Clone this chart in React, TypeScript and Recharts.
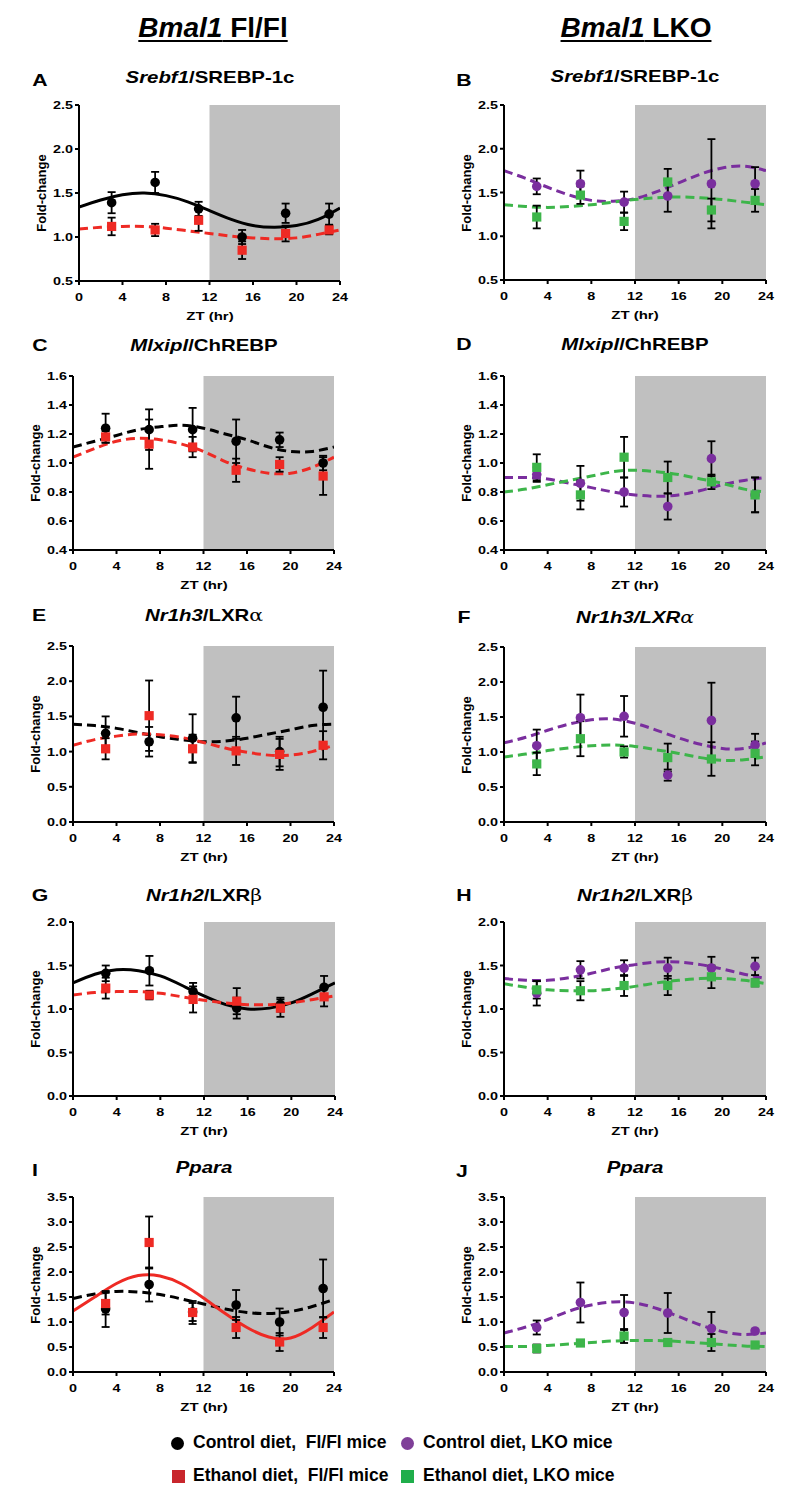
import React from 'react';
import { ComposedChart, XAxis, YAxis, Line, Scatter, ErrorBar, ReferenceArea } from 'recharts';

const FONT = '"Liberation Sans", Arial, Helvetica, sans-serif';
const C_BLACK = '#000000';
const C_RED = '#EE2A24';
const C_PURPLE = '#7A2E9E';
const C_GREEN = '#3DB54A';
const C_SHADE = '#C0C0C0';

// sampling times (ZT, hr)
const zt = [3, 7, 11, 15, 19, 23];
const fitZt = [0, 2, 4, 6, 8, 10, 12, 14, 16, 18, 20, 22, 24];
const xTicks = [0, 4, 8, 12, 16, 20, 24];
const darkStart = 12;
const darkEnd = 24;

// y ticks
const ticksA = [0.5, 1.0, 1.5, 2.0, 2.5];
const ticksC = [0.4, 0.6, 0.8, 1.0, 1.2, 1.4, 1.6];
const ticksE = [0, 0.5, 1.0, 1.5, 2.0, 2.5];
const ticksG = [0, 0.5, 1.0, 1.5, 2.0];
const ticksI = [0, 0.5, 1.0, 1.5, 2.0, 2.5, 3.0, 3.5];

// A: Srebf1, Fl/Fl
const aCtrl = [1.39, 1.62, 1.32, 1.0, 1.27, 1.26];
const aCtrlErr = [0.12, 0.12, 0.08, 0.08, 0.11, 0.12];
const aEtoh = [1.12, 1.08, 1.19, 0.85, 1.04, 1.08];
const aEtohErr = [0.1, 0.07, 0.12, 0.1, 0.09, 0.05];
const aCtrlFit = [1.34, 1.42, 1.48, 1.5, 1.47, 1.4, 1.3, 1.2, 1.13, 1.11, 1.13, 1.2, 1.33];
const aEtohFit = [1.09, 1.11, 1.12, 1.12, 1.1, 1.07, 1.04, 1.01, 0.99, 0.98, 0.99, 1.03, 1.08];

// B: Srebf1, LKO
const bCtrl = [1.57, 1.6, 1.39, 1.46, 1.6, 1.6];
const bCtrlErr = [0.09, 0.15, 0.12, 0.18, 0.51, 0.19];
const bEtoh = [1.22, 1.47, 1.17, 1.62, 1.3, 1.41];
const bEtohErr = [0.13, 0.1, 0.1, 0.15, 0.13, 0.13];
const bCtrlFit = [1.75, 1.66, 1.56, 1.47, 1.41, 1.4, 1.43, 1.51, 1.61, 1.71, 1.78, 1.8, 1.75];
const bEtohFit = [1.36, 1.34, 1.33, 1.34, 1.36, 1.39, 1.42, 1.44, 1.45, 1.44, 1.42, 1.39, 1.36];

// C: Mlxipl, Fl/Fl
const cCtrl = [1.24, 1.23, 1.23, 1.15, 1.16, 1.0];
const cCtrlErr = [0.1, 0.14, 0.15, 0.15, 0.05, 0.05];
const cEtoh = [1.18, 1.13, 1.11, 0.95, 0.99, 0.91];
const cEtohErr = [0.04, 0.17, 0.07, 0.08, 0.05, 0.13];
const cCtrlFit = [1.11, 1.15, 1.19, 1.23, 1.25, 1.26, 1.24, 1.2, 1.16, 1.11, 1.08, 1.08, 1.11];
const cEtohFit = [1.04, 1.1, 1.15, 1.17, 1.16, 1.13, 1.08, 1.01, 0.96, 0.93, 0.93, 0.97, 1.04];

// D: Mlxipl, LKO
const dCtrl = [0.92, 0.86, 0.8, 0.7, 1.03, 0.78];
const dCtrlErr = [0.05, 0.12, 0.1, 0.09, 0.12, 0.12];
const dEtoh = [0.97, 0.78, 1.04, 0.9, 0.87, 0.78];
const dEtohErr = [0.09, 0.1, 0.14, 0.11, 0.05, 0.12];
const dCtrlFit = [0.9, 0.9, 0.89, 0.86, 0.83, 0.8, 0.78, 0.77, 0.78, 0.81, 0.85, 0.88, 0.9];
const dEtohFit = [0.8, 0.82, 0.85, 0.88, 0.91, 0.94, 0.95, 0.94, 0.92, 0.89, 0.86, 0.82, 0.8];

// E: Nr1h3, Fl/Fl
const eCtrl = [1.26, 1.14, 1.19, 1.48, 1.0, 1.63];
const eCtrlErr = [0.24, 0.21, 0.34, 0.3, 0.21, 0.52];
const eEtoh = [1.04, 1.51, 1.04, 1.01, 0.96, 1.09];
const eEtohErr = [0.15, 0.5, 0.2, 0.2, 0.22, 0.2];
const eCtrlFit = [1.39, 1.37, 1.33, 1.27, 1.21, 1.17, 1.14, 1.15, 1.19, 1.25, 1.31, 1.37, 1.39];
const eEtohFit = [1.09, 1.17, 1.22, 1.25, 1.24, 1.2, 1.13, 1.05, 0.99, 0.95, 0.95, 1.0, 1.09];

// F: Nr1h3, LKO
const fCtrl = [1.09, 1.49, 1.51, 0.67, 1.45, 1.1];
const fCtrlErr = [0.23, 0.33, 0.29, 0.08, 0.54, 0.16];
const fEtoh = [0.83, 1.19, 1.0, 0.92, 0.9, 0.98];
const fEtohErr = [0.16, 0.25, 0.08, 0.2, 0.24, 0.17];
const fCtrlFit = [1.13, 1.21, 1.31, 1.4, 1.46, 1.47, 1.41, 1.31, 1.2, 1.11, 1.05, 1.05, 1.13];
const fEtohFit = [0.93, 0.97, 1.02, 1.06, 1.09, 1.1, 1.08, 1.03, 0.98, 0.92, 0.88, 0.89, 0.93];

// G: Nr1h2, Fl/Fl
const gCtrl = [1.41, 1.44, 1.2, 1.01, 1.05, 1.25];
const gCtrlErr = [0.09, 0.17, 0.1, 0.12, 0.08, 0.13];
const gEtoh = [1.24, 1.16, 1.11, 1.09, 1.01, 1.14];
const gEtohErr = [0.12, 0.05, 0.15, 0.15, 0.1, 0.11];
const gCtrlFit = [1.3, 1.4, 1.45, 1.44, 1.38, 1.27, 1.15, 1.05, 1.0, 1.01, 1.07, 1.18, 1.3];
const gEtohFit = [1.16, 1.19, 1.2, 1.2, 1.18, 1.14, 1.1, 1.07, 1.05, 1.05, 1.07, 1.11, 1.15];

// H: Nr1h2, LKO
const hCtrl = [1.18, 1.45, 1.47, 1.47, 1.47, 1.49];
const hCtrlErr = [0.14, 0.1, 0.09, 0.12, 0.13, 0.1];
const hEtoh = [1.22, 1.21, 1.27, 1.27, 1.37, 1.3];
const hEtohErr = [0.1, 0.11, 0.12, 0.11, 0.13, 0.04];
const hCtrlFit = [1.35, 1.33, 1.33, 1.36, 1.41, 1.47, 1.51, 1.54, 1.54, 1.51, 1.46, 1.4, 1.35];
const hEtohFit = [1.29, 1.25, 1.22, 1.21, 1.21, 1.23, 1.26, 1.3, 1.33, 1.35, 1.35, 1.33, 1.29];

// I: Ppara, Fl/Fl
const iCtrl = [1.26, 1.75, 1.2, 1.34, 1.0, 1.67];
const iCtrlErr = [0.36, 0.34, 0.18, 0.3, 0.27, 0.58];
const iEtoh = [1.37, 2.59, 1.19, 0.89, 0.6, 0.89];
const iEtohErr = [0.22, 0.52, 0.23, 0.21, 0.18, 0.21];
const iCtrlFit = [1.47, 1.56, 1.61, 1.6, 1.55, 1.46, 1.36, 1.26, 1.19, 1.17, 1.21, 1.31, 1.45];
const iEtohFit = [1.22, 1.5, 1.77, 1.93, 1.92, 1.76, 1.48, 1.17, 0.89, 0.7, 0.68, 0.89, 1.2];

// J: Ppara, LKO
const jCtrl = [0.89, 1.39, 1.19, 1.18, 0.87, 0.82];
const jCtrlErr = [0.14, 0.4, 0.35, 0.4, 0.33, 0.03];
const jEtoh = [0.47, 0.58, 0.72, 0.59, 0.59, 0.54];
const jEtohErr = [0.08, 0.04, 0.14, 0.04, 0.17, 0.04];
const jCtrlFit = [0.78, 0.9, 1.05, 1.22, 1.34, 1.4, 1.38, 1.27, 1.11, 0.94, 0.81, 0.75, 0.78];
const jEtohFit = [0.51, 0.51, 0.53, 0.56, 0.59, 0.62, 0.63, 0.63, 0.61, 0.58, 0.55, 0.52, 0.51];

type Box = { l: number; r: number; t: number; b: number };
type SeriesDef = {
  key: string;
  color: string;
  marker: 'circle' | 'square';
  vals: number[];
  errs: number[];
  fit: number[];
  dashed: boolean;
};

const pts = (vals: number[], errs: number[]) => zt.map((x, i) => ({ x, y: vals[i], e: errs[i] }));
const fitPts = (vals: number[]) => fitZt.map((x, i) => ({ x, y: vals[i] }));

const XTick = (p: any) => (
  <text
    transform={`translate(${p.x},${p.y + 14}) scale(1.25,1)`}
    textAnchor="middle"
    fontFamily={FONT}
    fontWeight={700}
    fontSize={11.5}
    fill="#000"
  >
    {p.payload.value}
  </text>
);

const YTick = (p: any) => (
  <text
    transform={`translate(${p.x},${p.y + 4}) scale(1.25,1)`}
    textAnchor="end"
    fontFamily={FONT}
    fontWeight={700}
    fontSize={11.5}
    fill="#000"
  >
    {Number(p.payload.value).toFixed(1)}
  </text>
);

const circleShape = (color: string) => (p: any) =>
  p.cx == null ? <g /> : <circle cx={p.cx} cy={p.cy} r={4.8} fill={color} />;
const squareShape = (color: string) => (p: any) =>
  p.cx == null ? <g /> : <rect x={p.cx - 4.6} y={p.cy - 4.6} width={9.2} height={9.2} fill={color} />;

function ChartPanel({ box, domain, ticks, series }: { box: Box; domain: [number, number]; ticks: number[]; series: SeriesDef[] }) {
  const W = box.r - box.l + 50;
  const H = box.b - box.t + 30;
  return (
    <div style={{ position: 'absolute', left: box.l - 40, top: box.t - 8, width: W, height: H }}>
      <ComposedChart width={W} height={H} margin={{ top: 8, right: 10, bottom: 0, left: 0 }}>
        <XAxis
          type="number"
          dataKey="x"
          domain={[0, 24]}
          ticks={xTicks}
          interval={0}
          allowDataOverflow
          tick={<XTick />}
          tickSize={4}
          tickLine={{ stroke: '#000', strokeWidth: 2 }}
          axisLine={{ stroke: '#000', strokeWidth: 2 }}
          height={22}
        />
        <YAxis
          type="number"
          domain={domain}
          ticks={ticks}
          interval={0}
          allowDataOverflow
          tick={<YTick />}
          tickSize={4}
          tickLine={{ stroke: '#000', strokeWidth: 2 }}
          axisLine={{ stroke: '#000', strokeWidth: 2 }}
          width={40}
        />
        <ReferenceArea x1={darkStart} x2={darkEnd} fill={C_SHADE} fillOpacity={1} stroke="none" />
        {series.map((s) => (
          <Line
            key={'l' + s.key}
            data={fitPts(s.fit)}
            dataKey="y"
            type="natural"
            stroke={s.color}
            strokeWidth={3}
            strokeDasharray={s.dashed ? '9 5' : undefined}
            dot={false}
            activeDot={false}
            isAnimationActive={false}
          />
        ))}
        {series.map((s) => (
          <Scatter
            key={'s' + s.key}
            data={pts(s.vals, s.errs)}
            dataKey="y"
            shape={s.marker === 'circle' ? circleShape(s.color) : squareShape(s.color)}
            isAnimationActive={false}
          >
            <ErrorBar dataKey="e" direction="y" width={4} stroke="#000" strokeWidth={1.8} />
          </Scatter>
        ))}
      </ComposedChart>
    </div>
  );
}

const Txt = ({ x, y, size, sx = 1, children, style }: any) => (
  <div
    style={{
      position: 'absolute',
      left: x,
      top: y,
      transform: `translate(-50%,-50%) scaleX(${sx})`,
      fontFamily: FONT,
      fontWeight: 700,
      fontSize: size,
      lineHeight: 1,
      whiteSpace: 'pre',
      color: '#000',
      ...style,
    }}
  >
    {children}
  </div>
);

const greek = { fontFamily: '"DejaVu Serif", "Liberation Serif", serif', fontWeight: 400 };

type PanelDef = {
  letter: string;
  letterX: number;
  letterY: number;
  title: React.ReactNode;
  titleY: number;
  box: Box;
  domain: [number, number];
  ticks: number[];
  series: SeriesDef[];
};

const fl = (ctrl: number[], ctrlErr: number[], ctrlFit: number[], etoh: number[], etohErr: number[], etohFit: number[], ctrlDashed: boolean, etohDashed: boolean): SeriesDef[] => [
  { key: 'ctrl', color: C_BLACK, marker: 'circle', vals: ctrl, errs: ctrlErr, fit: ctrlFit, dashed: ctrlDashed },
  { key: 'etoh', color: C_RED, marker: 'square', vals: etoh, errs: etohErr, fit: etohFit, dashed: etohDashed },
];
const lko = (ctrl: number[], ctrlErr: number[], ctrlFit: number[], etoh: number[], etohErr: number[], etohFit: number[]): SeriesDef[] => [
  { key: 'ctrl', color: C_PURPLE, marker: 'circle', vals: ctrl, errs: ctrlErr, fit: ctrlFit, dashed: true },
  { key: 'etoh', color: C_GREEN, marker: 'square', vals: etoh, errs: etohErr, fit: etohFit, dashed: true },
];

const panels: PanelDef[] = [
  {
    letter: 'A', letterX: 40, letterY: 80, titleY: 77,
    title: <><i>Srebf1</i>/SREBP-1c</>,
    box: { l: 79, r: 340, t: 105, b: 281 }, domain: [0.5, 2.5], ticks: ticksA,
    series: fl(aCtrl, aCtrlErr, aCtrlFit, aEtoh, aEtohErr, aEtohFit, false, true),
  },
  {
    letter: 'B', letterX: 464, letterY: 80, titleY: 76,
    title: <><i>Srebf1</i>/SREBP-1c</>,
    box: { l: 504, r: 766, t: 105, b: 280 }, domain: [0.5, 2.5], ticks: ticksA,
    series: lko(bCtrl, bCtrlErr, bCtrlFit, bEtoh, bEtohErr, bEtohFit),
  },
  {
    letter: 'C', letterX: 40, letterY: 345, titleY: 345,
    title: <><i>Mlxipl</i>/ChREBP</>,
    box: { l: 73, r: 334, t: 376, b: 550 }, domain: [0.4, 1.6], ticks: ticksC,
    series: fl(cCtrl, cCtrlErr, cCtrlFit, cEtoh, cEtohErr, cEtohFit, true, true),
  },
  {
    letter: 'D', letterX: 464, letterY: 344, titleY: 344,
    title: <><i>Mlxipl</i>/ChREBP</>,
    box: { l: 504, r: 766, t: 376, b: 550 }, domain: [0.4, 1.6], ticks: ticksC,
    series: lko(dCtrl, dCtrlErr, dCtrlFit, dEtoh, dEtohErr, dEtohFit),
  },
  {
    letter: 'E', letterX: 39, letterY: 615, titleY: 615,
    title: <><i>Nr1h3</i>/LXR<span style={greek}>α</span></>,
    box: { l: 73, r: 334, t: 646, b: 822 }, domain: [0, 2.5], ticks: ticksE,
    series: fl(eCtrl, eCtrlErr, eCtrlFit, eEtoh, eEtohErr, eEtohFit, true, true),
  },
  {
    letter: 'F', letterX: 464, letterY: 617, titleY: 617,
    title: <i>Nr1h3/LXR<span style={{ ...greek, fontStyle: 'italic' }}>α</span></i>,
    box: { l: 504, r: 766, t: 647, b: 822 }, domain: [0, 2.5], ticks: ticksE,
    series: lko(fCtrl, fCtrlErr, fCtrlFit, fEtoh, fEtohErr, fEtohFit),
  },
  {
    letter: 'G', letterX: 40, letterY: 895, titleY: 895,
    title: <><i>Nr1h2</i>/LXR<span style={greek}>β</span></>,
    box: { l: 73, r: 335, t: 922, b: 1096 }, domain: [0, 2.0], ticks: ticksG,
    series: fl(gCtrl, gCtrlErr, gCtrlFit, gEtoh, gEtohErr, gEtohFit, false, true),
  },
  {
    letter: 'H', letterX: 464, letterY: 895, titleY: 895,
    title: <><i>Nr1h2</i>/LXR<span style={greek}>β</span></>,
    box: { l: 504, r: 766, t: 922, b: 1096 }, domain: [0, 2.0], ticks: ticksG,
    series: lko(hCtrl, hCtrlErr, hCtrlFit, hEtoh, hEtohErr, hEtohFit),
  },
  {
    letter: 'I', letterX: 35, letterY: 1170, titleY: 1167,
    title: <i>Ppara</i>,
    box: { l: 73, r: 334, t: 1197, b: 1372 }, domain: [0, 3.5], ticks: ticksI,
    series: fl(iCtrl, iCtrlErr, iCtrlFit, iEtoh, iEtohErr, iEtohFit, true, false),
  },
  {
    letter: 'J', letterX: 462, letterY: 1171, titleY: 1167,
    title: <i>Ppara</i>,
    box: { l: 504, r: 766, t: 1197, b: 1372 }, domain: [0, 3.5], ticks: ticksI,
    series: lko(jCtrl, jCtrlErr, jCtrlFit, jEtoh, jEtohErr, jEtohFit),
  },
];

const legendItems = [
  { label: 'Control diet,  Fl/Fl mice', color: '#000000', shape: 'circle', mx: 177, tx: 193, y: 1443 },
  { label: 'Control diet, LKO mice', color: '#7F3F98', shape: 'circle', mx: 407, tx: 423, y: 1443 },
  { label: 'Ethanol diet,  Fl/Fl mice', color: '#C8262C', shape: 'square', mx: 178.5, tx: 193, y: 1476 },
  { label: 'Ethanol diet, LKO mice', color: '#1FAE4B', shape: 'square', mx: 407.5, tx: 423, y: 1476 },
];

export default function App() {
  return (
    <div style={{ position: 'absolute', left: 0, top: 0, width: 788, height: 1501, background: '#fff', overflow: 'hidden' }}>
      <Txt x={213} y={28} size={28} style={{ textDecoration: 'underline', textDecorationThickness: '2px', textUnderlineOffset: '3px' }}>
        <i>Bmal1</i> Fl/Fl
      </Txt>
      <Txt x={636} y={28} size={28} style={{ textDecoration: 'underline', textDecorationThickness: '2px', textUnderlineOffset: '3px' }}>
        <i>Bmal1</i> LKO
      </Txt>

      {panels.map((p) => {
        const cx = (p.box.l + p.box.r) / 2;
        const cy = (p.box.t + p.box.b) / 2;
        return (
          <React.Fragment key={p.letter}>
            <Txt x={p.letterX} y={p.letterY} size={17} sx={1.25}>{p.letter}</Txt>
            <Txt x={cx} y={p.titleY} size={17} sx={1.2}>{p.title}</Txt>
            <ChartPanel box={p.box} domain={p.domain} ticks={p.ticks} series={p.series} />
            <Txt x={cx} y={p.box.b + 36} size={11.5} sx={1.3}>ZT (hr)</Txt>
            <div
              style={{
                position: 'absolute',
                left: p.box.l - 38,
                top: cy,
                transform: 'translate(-50%,-50%) rotate(-90deg)',
                fontFamily: FONT,
                fontWeight: 700,
                fontSize: 13,
                lineHeight: 1,
                whiteSpace: 'nowrap',
              }}
            >
              Fold-change
            </div>
          </React.Fragment>
        );
      })}

      {legendItems.map((it) => (
        <React.Fragment key={it.label}>
          <div
            style={{
              position: 'absolute',
              left: it.mx - 6.5,
              top: it.y - 6.5,
              width: 13,
              height: 13,
              borderRadius: it.shape === 'circle' ? '50%' : 0,
              background: it.color,
            }}
          />
          <div
            style={{
              position: 'absolute',
              left: it.tx,
              top: it.y,
              transform: 'translateY(-50%)',
              fontFamily: FONT,
              fontWeight: 700,
              fontSize: 17.5,
              lineHeight: 1,
              whiteSpace: 'pre',
            }}
          >
            {it.label}
          </div>
        </React.Fragment>
      ))}
    </div>
  );
}
